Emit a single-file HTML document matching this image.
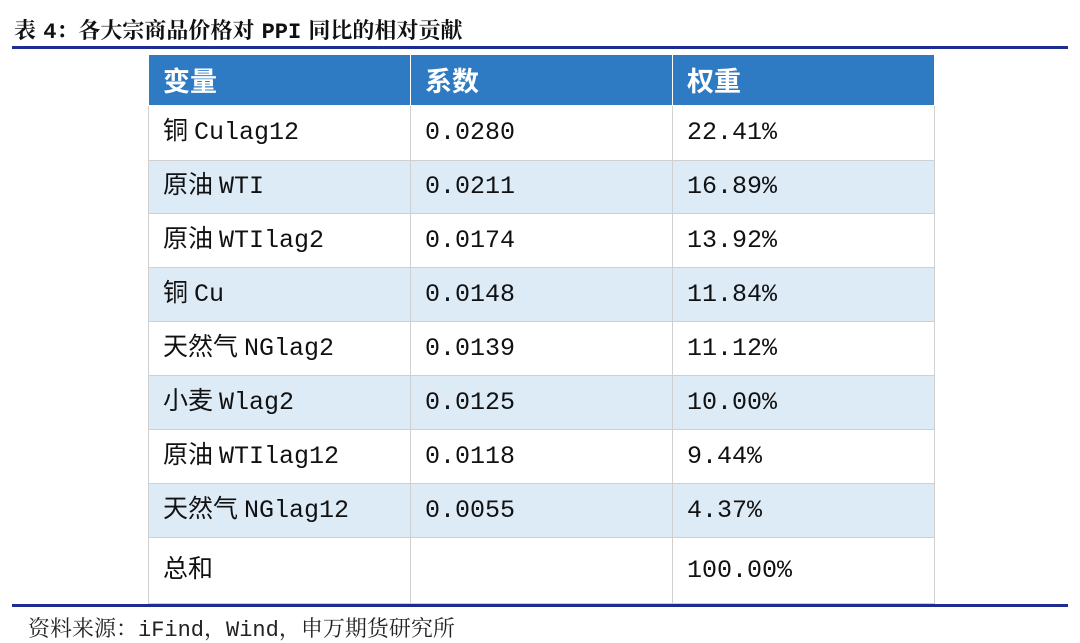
<!DOCTYPE html>
<html><head><meta charset="utf-8"><style>
body{margin:0;width:1080px;height:642px;background:#fff;position:relative;overflow:hidden;font-family:"Liberation Mono","Noto Sans CJK SC",monospace;}
.title{position:absolute;left:14px;top:14px;font-size:22px;font-weight:bold;color:#111;word-spacing:-6px;font-family:"Liberation Mono","Noto Serif CJK SC","Noto Sans CJK SC",monospace;}
.line{position:absolute;left:12px;width:1056px;height:3px;background:#1F2C8F;}
table{position:absolute;left:148px;top:54px;border-collapse:collapse;table-layout:fixed;width:786px;}
td,th{width:262px;padding:0 0 0 14px;text-align:left;vertical-align:middle;border:1px solid #d0d0d0;font-size:25px;line-height:30px;color:#111;box-sizing:border-box;word-spacing:-9px;}
th{background:#2E7BC4;color:#fff;font-weight:bold;font-size:27px;height:51px;border:1px solid #fff;font-family:"Noto Sans CJK SC",sans-serif;}
tr.b td{background:#DDEBF7;}
.src{position:absolute;left:28px;top:612px;font-size:22px;color:#222;word-spacing:-6px;font-family:"Liberation Mono","Noto Serif CJK SC",monospace;}
</style></head><body>
<div class="title">表 4：各大宗商品价格对 PPI 同比的相对贡献</div>
<div class="line" style="top:46px"></div>
<table>
<tr><th>变量</th><th>系数</th><th>权重</th></tr>
<tr style="height:55px"><td>铜 Culag12</td><td>0.0280</td><td>22.41%</td></tr>
<tr class="b" style="height:53px"><td>原油 WTI</td><td>0.0211</td><td>16.89%</td></tr>
<tr style="height:54px"><td>原油 WTIlag2</td><td>0.0174</td><td>13.92%</td></tr>
<tr class="b" style="height:54px"><td>铜 Cu</td><td>0.0148</td><td>11.84%</td></tr>
<tr style="height:54px"><td>天然气 NGlag2</td><td>0.0139</td><td>11.12%</td></tr>
<tr class="b" style="height:54px"><td>小麦 Wlag2</td><td>0.0125</td><td>10.00%</td></tr>
<tr style="height:54px"><td>原油 WTIlag12</td><td>0.0118</td><td>9.44%</td></tr>
<tr class="b" style="height:54px"><td>天然气 NGlag12</td><td>0.0055</td><td>4.37%</td></tr>
<tr style="height:66px"><td>总和</td><td></td><td>100.00%</td></tr>
</table>
<div class="line" style="top:604px"></div>
<div class="src">资料来源：iFind，Wind，申万期货研究所</div>
</body></html>
